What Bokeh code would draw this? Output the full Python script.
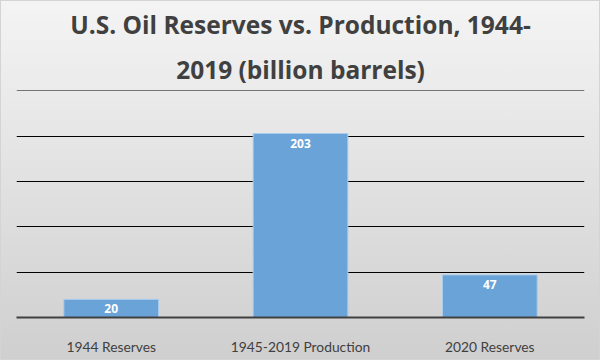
from bokeh.plotting import figure
from bokeh.models import ColumnDataSource, LabelSet, Title, SingleIntervalTicker, InlineStyleSheet
from bokeh.core.properties import value
from bokeh.embed import file_html
from bokeh.resources import INLINE

categories = ["1944 Reserves", "1945-2019 Production", "2020 Reserves"]
values = [20, 203, 47]
labels = ["20", "203", "47"]
title_lines = ["U.S. Oil Reserves vs. Production, 1944-", "2019 (billion barrels)"]

src = ColumnDataSource(dict(cat=categories, val=values, lab=labels))

css = InlineStyleSheet(css=":host { background: linear-gradient(#f4f4f4, #cfcfcf); "
                           "box-shadow: inset 0 0 0 1px #d4d4d4; }")

p = figure(x_range=categories, y_range=(0, 250.5), width=600, height=360,
           output_backend="svg", toolbar_location=None, stylesheets=[css],
           min_border_left=16, min_border_right=16, min_border_top=90, min_border_bottom=43)
p.title = None
for line in reversed(title_lines):
    t = Title(text=line, align="center", text_font="Open Sans", text_font_size="24.5px",
              text_font_style="bold", text_color="#404040")
    p.add_layout(t, "above")

p.background_fill_color = None
p.border_fill_color = None
p.outline_line_color = None

p.vbar(x="cat", top="val", width=0.5, source=src, fill_color="#6aa3d7",
       line_color="#a9cbec", line_width=1)

lbl = LabelSet(x="cat", y="val", text="lab", source=src, y_offset=-5,
               text_align="center", text_baseline="top", text_color="white",
               text_font=value("Open Sans"), text_font_size="12px", text_font_style="bold")
p.add_layout(lbl)

p.yaxis.visible = False
p.yaxis.ticker = SingleIntervalTicker(interval=50)
p.ygrid.ticker = SingleIntervalTicker(interval=50)
p.ygrid.grid_line_color = "black"
p.ygrid.grid_line_width = 1
p.xgrid.grid_line_color = None

p.xaxis.axis_line_color = "#404040"
p.xaxis.axis_line_width = 2
p.xaxis.major_tick_line_color = None
p.xaxis.minor_tick_line_color = None
p.xaxis.major_label_standoff = 14
p.xaxis.major_label_text_font = "Lato"
p.xaxis.major_label_text_font_size = "13.8px"
p.xaxis.major_label_text_color = "#404040"

open("out.html", "w").write(file_html(p, INLINE))
